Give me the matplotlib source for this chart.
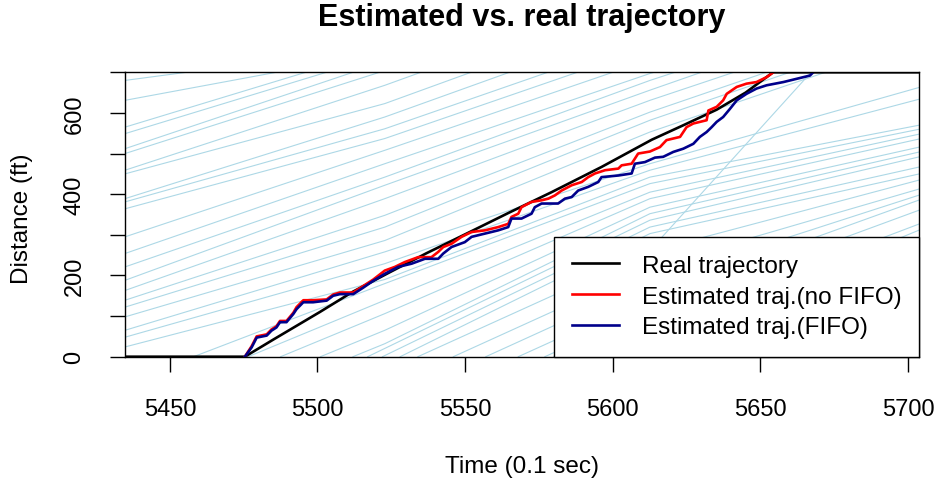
import matplotlib.pyplot as plt

plt.rcParams['font.family'] = ['Liberation Sans', 'DejaVu Sans']

# background vehicle trajectories, time (0.1 s) and distance (ft)
bg_t = [
    [5434.8, 5455.6],
    [5434.8, 5486.0],
    [5434.8, 5496.0],
    [5434.8, 5503.0],
    [5434.8, 5512.0],
    [5434.8, 5521.0],
    [5434.8, 5522.8, 5535.0],
    [5434.8, 5522.8, 5552.0],
    [5434.8, 5522.8, 5565.0],
    [5434.8, 5522.8, 5578.0],
    [5434.8, 5522.8, 5588.0],
    [5434.8, 5522.8, 5600.0],
    [5434.8, 5522.8, 5612.6, 5614.0],
    [5434.8, 5522.8, 5612.6, 5621.0],
    [5434.8, 5522.8, 5612.6, 5630.0],
    [5434.8, 5522.8, 5612.6, 5641.0],
    [5434.8, 5522.8, 5612.6, 5652.0],
    [5434.8, 5522.8, 5612.6, 5660.0],
    [5434.8, 5522.8, 5612.6, 5672.0],
    [5434.8, 5522.8, 5612.6, 5703.9],
    [5434.8, 5522.8, 5612.6, 5703.9],
    [5434.8, 5522.8, 5612.6, 5703.9],
    [5458.0, 5522.8, 5612.6, 5703.9],
    [5476.5, 5522.8, 5612.6, 5703.9],
    [5487.5, 5522.8, 5612.6, 5703.9],
    [5501.0, 5522.8, 5612.6, 5703.9],
    [5512.0, 5522.8, 5612.6, 5703.9],
    [5517.0, 5612.6, 5703.9],
    [5522.0, 5612.6, 5703.9],
    [5528.0, 5612.6, 5703.9],
    [5534.0, 5612.6, 5703.9],
    [5546.0, 5612.6, 5703.9],
    [5557.0, 5612.6, 5703.9],
    [5568.0, 5612.6, 5703.9],
    [5577.0, 5612.6, 5703.9],
    [5590.0, 5612.6, 5703.9],
    [5600.0, 5703.9],
    [5580.0, 5614.9, 5666.8],
]
bg_y = [
    [680, 700],
    [631, 700],
    [565, 700],
    [549, 700],
    [512, 700],
    [500, 700],
    [459, 668, 700],
    [450, 623, 700],
    [389, 590, 700],
    [381, 561, 700],
    [364, 537, 700],
    [295, 508, 700],
    [254, 475, 697, 700],
    [221, 442, 680, 700],
    [188, 422, 656, 700],
    [163, 389, 631, 700],
    [139, 348, 602, 700],
    [122, 319, 582, 700],
    [98, 286, 553, 700],
    [65, 258, 475, 663],
    [48, 229, 459, 634],
    [24, 190, 442, 570],
    [0, 180, 426, 560],
    [0, 139, 405, 548],
    [0, 106, 389, 536],
    [0, 65, 368, 516],
    [0, 32, 352, 504],
    [0, 336, 492],
    [0, 319, 467],
    [0, 303, 450],
    [0, 259, 435],
    [0, 220, 413],
    [0, 184, 398],
    [0, 147, 386],
    [0, 117, 361],
    [0, 75, 327],
    [0, 312],
    [0, 280, 697],
]

real_t = [5434.8, 5475.4, 5485.0, 5500.8, 5512.0, 5524.5, 5537.0, 5550.5, 5565.0,
          5579.3, 5596.2, 5613.2, 5624.0, 5635.2, 5645.0, 5654.3, 5703.9]
real_y = [0, 0, 42, 110, 160, 208, 255, 303, 355, 405, 467, 534, 570, 608, 650, 700, 700]

nofifo_t = [5475.4, 5477.7, 5479.4, 5482.8, 5484.4, 5486.1, 5487.3, 5489.5, 5491.8, 5492.9,
            5495.2, 5498.5, 5503.1, 5505.3, 5507.6, 5512.1, 5515.5, 5518.9, 5522.8, 5526.2,
            5529.6, 5534.1, 5538.6, 5540.9, 5542.6, 5545.4, 5548.8, 5552.2, 5556.7, 5561.2,
            5564.6, 5565.7, 5568.0, 5569.1, 5572.5, 5575.9, 5578.2, 5580.4, 5582.7, 5586.1,
            5589.5, 5591.7, 5594.0, 5597.4, 5601.9, 5603.0, 5606.4, 5608.6, 5612.6, 5616.0,
            5618.2, 5622.8, 5625.0, 5627.3, 5631.8, 5632.4, 5635.2, 5637.4, 5638.6, 5642.0,
            5645.3, 5648.7, 5652.1, 5654.4]
nofifo_y = [0, 26, 50, 55, 67, 75, 88, 88, 108, 122,
            139, 139, 141, 153, 158, 158, 174, 190, 212, 221,
            233, 245, 245, 258, 270, 278, 295, 307, 311, 319,
            327, 344, 352, 368, 381, 385, 389, 397, 409, 422,
            430, 442, 451, 459, 463, 471, 475, 500, 505, 516,
            533, 541, 565, 574, 582, 606, 615, 631, 647, 664,
            672, 676, 688, 700]

fifo_t = [5475.4, 5477.7, 5479.4, 5482.8, 5484.4, 5486.1, 5487.3, 5489.5, 5491.8, 5492.9,
          5495.2, 5498.5, 5503.1, 5505.3, 5507.6, 5512.1, 5515.5, 5518.9, 5522.8, 5527.3,
          5531.9, 5536.4, 5540.9, 5542.6, 5545.4, 5549.9, 5552.2, 5556.7, 5561.2, 5564.6,
          5565.7, 5569.1, 5572.5, 5573.6, 5575.9, 5581.5, 5583.8, 5586.1, 5588.3, 5591.7,
          5595.1, 5596.2, 5601.9, 5606.4, 5607.5, 5610.9, 5614.3, 5617.1, 5620.5, 5623.9,
          5627.3, 5629.5, 5631.8, 5633.5, 5635.2, 5637.4, 5639.7, 5642.0, 5645.3, 5648.7,
          5652.1, 5657.8, 5662.3, 5666.8, 5667.9]
fifo_y = [0, 23, 47, 52, 64, 72, 85, 85, 105, 117,
          134, 134, 138, 150, 154, 154, 170, 187, 204, 221,
          229, 241, 241, 254, 270, 282, 295, 303, 311, 319,
          340, 340, 352, 368, 377, 377, 389, 393, 409, 418,
          430, 442, 446, 451, 475, 479, 490, 492, 504, 512,
          524, 541, 553, 565, 578, 590, 610, 631, 647, 660,
          668, 676, 684, 692, 700]

labels = ['Real trajectory', 'Estimated traj.(no FIFO)', 'Estimated traj.(FIFO)']

fig = plt.figure(figsize=(9.37, 4.89), dpi=100)
ax = fig.add_axes([125 / 937, 1 - 357.7 / 489, 794.5 / 937, 284.4 / 489])

for t, y in zip(bg_t, bg_y):
    ax.plot(t, y, color='#ADD8E6', lw=0.8)

ax.plot(real_t, real_y, color='black', lw=1.9, label=labels[0])
ax.plot(nofifo_t, nofifo_y, color='#FF0000', lw=1.9, label=labels[1])
ax.plot(fifo_t, fifo_y, color='#00008B', lw=1.9, label=labels[2])

ax.set_xlim(5434.8, 5703.9)
ax.set_ylim(0, 700)
ax.set_xticks([5450, 5500, 5550, 5600, 5650, 5700])
ax.set_yticks(range(0, 701, 100))
ax.set_yticklabels(['0', '', '200', '', '400', '', '600', ''])
for lab in ax.get_yticklabels():
    lab.set_rotation(90)
    lab.set_va('center')
ax.tick_params(axis='both', labelsize=17, length=10.5, width=1, color='black')
ax.tick_params(axis='x', pad=19)
ax.tick_params(axis='y', pad=18)
for s in ax.spines.values():
    s.set_linewidth(1)
    s.set_color('black')

leg = ax.legend(loc='lower right', bbox_to_anchor=(1, 0), borderaxespad=0,
                fancybox=False, framealpha=1, edgecolor='black', fontsize=17.5,
                handlelength=1.9, handletextpad=0.95, borderpad=0.75, labelspacing=0.36)
leg.get_frame().set_linewidth(1)
leg.set_zorder(10)

fig.text(522 / 937, 1 - 18 / 489, 'Estimated vs. real trajectory', ha='center', va='center',
         fontsize=22, fontweight='bold')
fig.text(522 / 937, 1 - 467 / 489, 'Time (0.1 sec)', ha='center', va='center', fontsize=17.5)
fig.text(22 / 937, 1 - 219 / 489, 'Distance (ft)', ha='center', va='center', fontsize=17.5,
         rotation=90)

fig.savefig('out.png', dpi=100)
